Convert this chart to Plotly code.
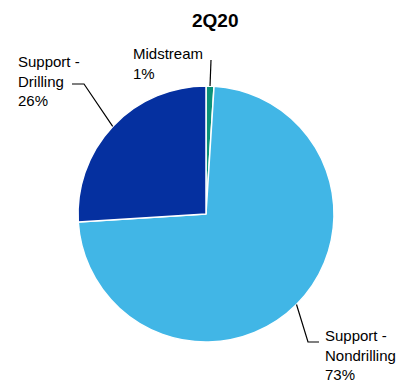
import math
import plotly.graph_objects as go

# Data
categories = ["Midstream", "Support - Nondrilling", "Support - Drilling"]
values = [1, 73, 26]
label_texts = ["Midstream<br>1%", "Support -<br>Nondrilling<br>73%", "Support -<br>Drilling<br>26%"]
colors = ["#0a9178", "#41b6e6", "#0530a0"]

W, H = 404, 383
cx, cy, R = 206, 214, 128  # pie centre/radius in pixels

def px(x):
    return x / W

def py(y):
    return 1 - y / H

fig = go.Figure(go.Pie(
    labels=categories, values=values, sort=False, direction="clockwise", rotation=0,
    marker=dict(colors=colors, line=dict(color="white", width=1.5)),
    textinfo="none", hoverinfo="label+percent", showlegend=False,
    domain=dict(x=[px(cx - R), px(cx + R)], y=[py(cy + R), py(cy - R)]),
))

# Label layout: text anchor (left x, centre y), elbow point, end point of horizontal segment
label_layout = {
    "Midstream": dict(tx=131, ty=64, elbow=None, end=(211, 60)),
    "Support - Nondrilling": dict(tx=323, ty=355, elbow=(308, 342), end=(319, 342)),
    "Support - Drilling": dict(tx=16, ty=81, elbow=(84, 84), end=(72, 84)),
}

total = sum(values)
cum = 0
shapes = []
annotations = []
for cat, v, txt in zip(categories, values, label_texts):
    mid = (cum + v / 2) / total * 2 * math.pi
    cum += v
    ex = cx + R * math.sin(mid)
    ey = cy - R * math.cos(mid)
    lay = label_layout[cat]
    pts = [(ex, ey)]
    if lay["elbow"]:
        pts.append(lay["elbow"])
    pts.append(lay["end"])
    path = "M " + " L ".join(f"{px(x)},{py(y)}" for x, y in pts)
    shapes.append(dict(type="path", path=path, xref="paper", yref="paper",
                       line=dict(color="black", width=1.2)))
    annotations.append(dict(text=txt, x=px(lay["tx"]), y=py(lay["ty"]), xref="paper", yref="paper",
                            xanchor="left", yanchor="middle", align="left", showarrow=False,
                            font=dict(size=15, color="black", family="Liberation Sans, Arial")))

annotations.append(dict(text="<b>2Q20</b>", x=px(215), y=py(20), xref="paper", yref="paper",
                        xanchor="center", yanchor="middle", showarrow=False,
                        font=dict(size=19, color="black", family="Liberation Sans, Arial")))

fig.update_layout(width=W, height=H, margin=dict(l=0, r=0, t=0, b=0),
                  paper_bgcolor="white", plot_bgcolor="white",
                  shapes=shapes, annotations=annotations)

fig.write_html("out.html")
